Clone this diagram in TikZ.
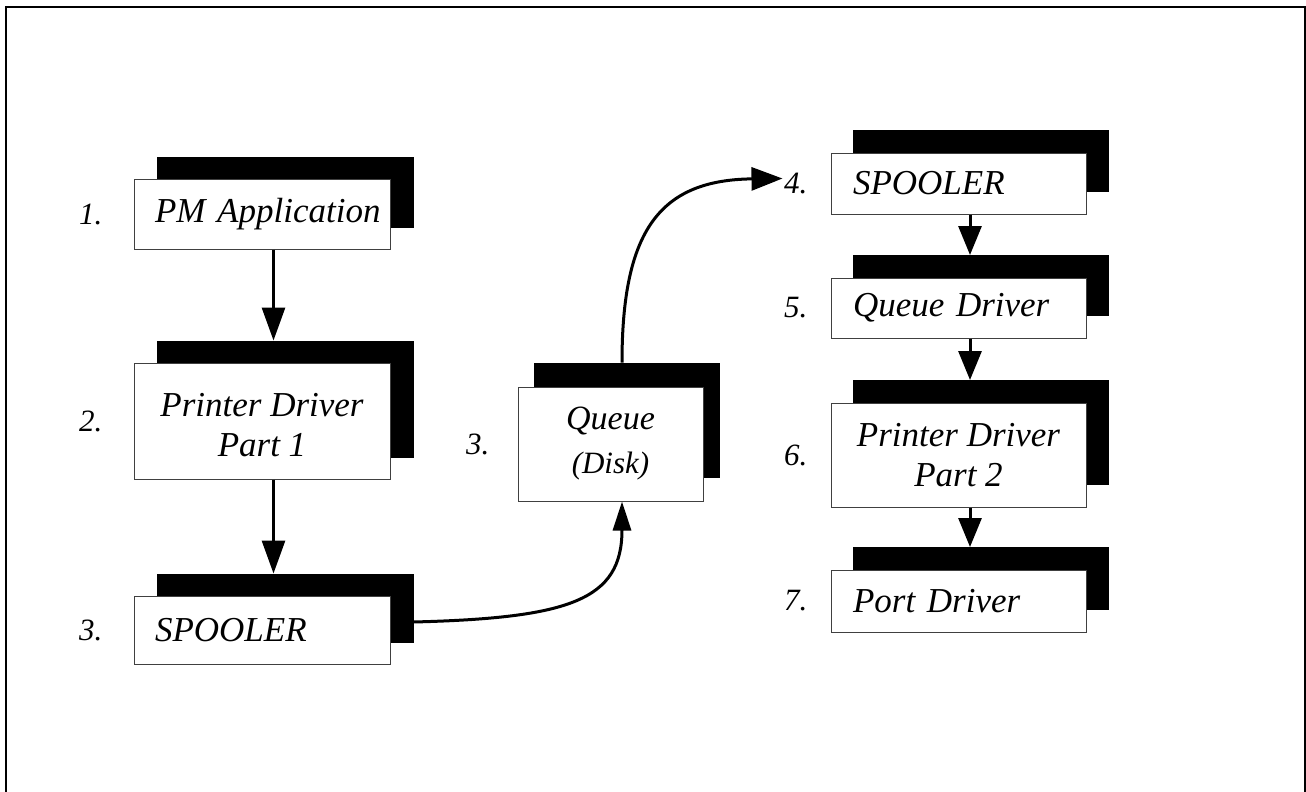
\documentclass[tikz,border=0pt]{standalone}
\usepackage{fontspec}
\setmainfont{Liberation Serif}[ItalicFont={Liberation Serif Italic}]
\usetikzlibrary{arrows.meta,shadows}

\begin{document}
\begin{tikzpicture}[x=1pt,y=-1pt,
  card/.style={draw=black!75, line width=1pt, fill=white, inner sep=0pt,
    font=\rmfamily\itshape\fontsize{35}{40}\selectfont},
  leftstack/.style={copy shadow={shadow xshift=23pt, shadow yshift=22pt,
    fill=black, draw=black, line width=1pt}},
  rightstack/.style={copy shadow={shadow xshift=22.5pt, shadow yshift=22.5pt,
    fill=black, draw=black, line width=1pt}},
  num/.style={inner sep=0pt, anchor=east, font=\rmfamily\itshape\fontsize{31}{36}\selectfont},
  flow/.style={line width=3pt},
  bigtip/.style={-{Triangle[length=33pt,width=23pt]}},
  smalltip/.style={-{Triangle[length=29pt,width=23pt]}}
]
\useasboundingbox (0,0) rectangle (1306,792);

% outer frame (open at the bottom)
\draw[line width=2pt] (6,792) -- (6,7) -- (1305,7) -- (1305,792);

% left column: application side
\node[card, leftstack, minimum width=256pt, minimum height=70pt,
  text width=214pt, align=left] (pm) at (262,214) {\mbox{PM Application}};
\node[card, leftstack, minimum width=256pt, minimum height=116pt,
  align=center] (pd1) at (262,421) {\rule{0pt}{32pt}Printer Driver\\Part 1};
\node[card, leftstack, minimum width=256pt, minimum height=68pt,
  text width=214pt, align=left] (sp1) at (262,630) {\mbox{SPOOLER}};

\node[num] (n1) at ([xshift=-31pt]pm.west) {1.};
\node[num] (n2) at ([xshift=-31pt]pd1.west) {2.};
\node[num] (n3) at ([xshift=-31pt]sp1.west) {3.};

% middle: the queue on disk
\node[card, copy shadow={shadow xshift=16pt, shadow yshift=24pt,
    fill=black, draw=black, line width=1pt},
  minimum width=185pt, minimum height=114pt, align=center,
  font=\rmfamily\itshape\fontsize{34}{44}\selectfont] (queue) at (610.5,444)
  {Queue\\{\fontsize{31}{44}\selectfont(Disk)}};
\node[num] (nq) at ([xshift=-28pt]queue.west) {3.};

% right column: printing side
\node[card, rightstack, minimum width=255pt, minimum height=61pt,
  text width=211pt, align=left] (sp2) at (958.5,183.5) {\mbox{SPOOLER}};
\node[card, rightstack, minimum width=255pt, minimum height=60pt,
  text width=211pt, align=left] (qd) at (958.5,308) {\mbox{Queue Driver}};
\node[card, rightstack, minimum width=255pt, minimum height=104pt,
  align=center] (pd2) at (958.5,455) {Printer Driver\\Part 2};
\node[card, rightstack, minimum width=255pt, minimum height=62pt,
  text width=211pt, align=left] (port) at (958.5,601) {\mbox{Port Driver}};

\node[num] (n4) at ([xshift=-23pt]sp2.west) {4.};
\node[num] (n5) at ([xshift=-23pt]qd.west) {5.};
\node[num] (n6) at ([xshift=-23pt]pd2.west) {6.};
\node[num] (n7) at ([xshift=-23pt]port.west) {7.};

% straight connectors
\draw[flow, bigtip] ([xshift=11.5pt]pm.south) -- ([xshift=11.5pt,yshift=22pt]pd1.north);
\draw[flow, bigtip] ([xshift=11.5pt]pd1.south) -- ([xshift=11.5pt,yshift=22pt]sp1.north);
\draw[flow, smalltip] ([xshift=11.5pt]sp2.south) -- ([xshift=11.5pt,yshift=22.5pt]qd.north);
\draw[flow, smalltip] ([xshift=11.5pt]qd.south) -- ([xshift=11.5pt,yshift=22.5pt]pd2.north);
\draw[flow, smalltip] ([xshift=11.5pt]pd2.south) -- ([xshift=11.5pt,yshift=22.5pt]port.north);

% curved connectors through the queue
\coordinate (spout) at ([xshift=23pt,yshift=8pt]sp1.east);
\coordinate (qin) at ([xshift=11.5pt]queue.south);
\coordinate (qout) at ([xshift=11.5pt,yshift=24pt]queue.north);
\coordinate (spin) at ([xshift=-48pt,yshift=5pt]sp2.west);
\draw[flow, -{Triangle[length=29pt,width=18pt]}]
  (spout) .. controls (570,618) and (622,600) .. (qin);
\draw[flow, -{Triangle[length=31pt,width=23pt]}]
  (qout) .. controls (622,230) and (660,180) .. (spin);
\end{tikzpicture}
\end{document}
